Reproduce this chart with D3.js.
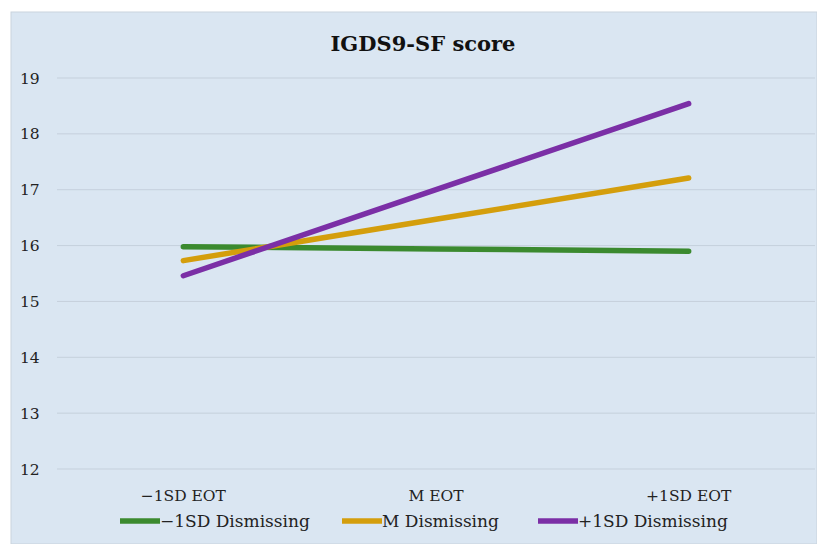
<!DOCTYPE html>
<html><head><meta charset="utf-8">
<script src="https://cdn.jsdelivr.net/npm/d3@7"></script>
<style>html,body{margin:0;padding:0;background:#fff;}svg{display:block;} text{font-family:"DejaVu Serif",serif;}</style>
</head><body>
<svg id="chart" width="817" height="544"></svg>
<script>
const categories = ["\u22121SD EOT", "M EOT", "+1SD EOT"];
const seriesNames = ["\u22121SD Dismissing", "M Dismissing", "+1SD Dismissing"];
const lowDismissing = [15.98, 15.94, 15.90];
const midDismissing = [15.73, 16.47, 17.21];
const highDismissing = [15.46, 17.00, 18.54];
const yTicks = [12, 13, 14, 15, 16, 17, 18, 19];
const colors = ["#3b8a2f", "#d49e0c", "#7b2fa6"];
const title = "IGDS9-SF score";

const series = [lowDismissing, midDismissing, highDismissing];
const svg = d3.select("#chart");

svg.append("rect").attr("x", 11).attr("y", 12).attr("width", 806).attr("height", 532)
  .attr("fill", "#dae6f2").attr("stroke", "#c9d3dd").attr("stroke-width", 1);

const x = d3.scaleBand().domain(categories).range([57, 815]);
const y = d3.scaleLinear().domain([12, 19]).range([469, 78]);

svg.append("g").selectAll("line").data(yTicks).join("line")
  .attr("x1", 57).attr("x2", 815)
  .attr("y1", d => y(d)).attr("y2", d => y(d))
  .attr("stroke", "#c5d0dc").attr("stroke-width", 1);

svg.append("g").selectAll("text").data(yTicks).join("text")
  .attr("x", 20).attr("y", d => y(d)).attr("dy", "0.36em")
  .attr("font-size", 15.5).attr("fill", "#222")
  .text(d => d);

svg.append("g").selectAll("text").data(categories).join("text")
  .attr("x", d => x(d) + x.bandwidth() / 2).attr("y", 501)
  .attr("text-anchor", "middle")
  .attr("font-size", 15.5).attr("fill", "#222")
  .text(d => d);

svg.append("text").attr("x", 423).attr("y", 51).attr("text-anchor", "middle")
  .attr("font-size", 21).attr("font-weight", "bold").attr("fill", "#111")
  .text(title);

const line = d3.line().x((d, i) => x(categories[i]) + x.bandwidth() / 2).y(d => y(d));
svg.append("g").selectAll("path").data(series).join("path")
  .attr("d", d => line(d))
  .attr("fill", "none").attr("stroke", (d, i) => colors[i])
  .attr("stroke-width", 5.5).attr("stroke-linecap", "round").attr("stroke-linejoin", "round");

const legendX = [120, 342, 538];
const lg = svg.append("g").selectAll("g").data(seriesNames).join("g")
  .attr("transform", (d, i) => `translate(${legendX[i]},521)`);
lg.append("line").attr("x1", 0).attr("x2", 40).attr("y1", 0).attr("y2", 0)
  .attr("stroke", (d, i) => colors[i]).attr("stroke-width", 5.5);
lg.append("text").attr("x", 40).attr("dy", "0.35em")
  .attr("font-size", 17).attr("fill", "#222")
  .text(d => d);
</script>
</body></html>
